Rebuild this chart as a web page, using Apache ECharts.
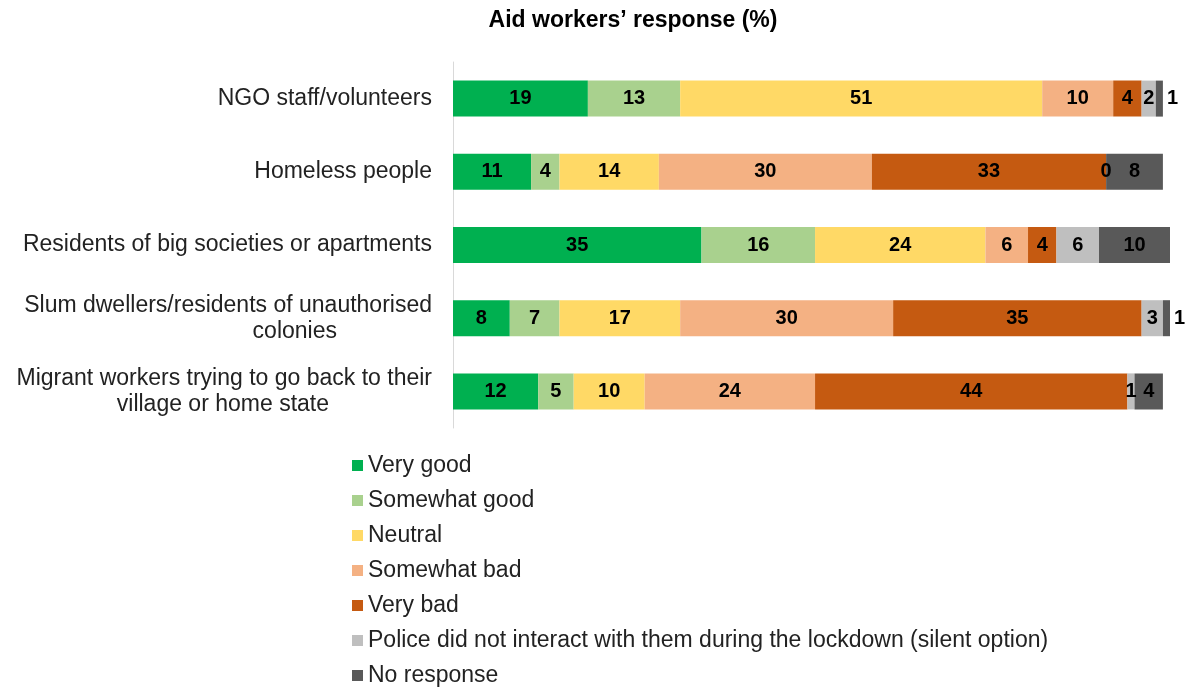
<!DOCTYPE html>
<html>
<head>
<meta charset="utf-8">
<script src="https://cdn.jsdelivr.net/npm/echarts@6/dist/echarts.min.js"></script>
<style>
  html, body { margin: 0; padding: 0; background: #fff; }
  #chart { width: 1186px; height: 693px; }
</style>
</head>
<body>
<div id="chart"></div>
<script>
// Groups asked about, top to bottom
const categories = [
  'NGO staff/volunteers',
  'Homeless people',
  'Residents of big societies or apartments',
  'Slum dwellers/residents of unauthorised colonies',
  'Migrant workers trying to go back to their village or home state'
];

// Response shares (%) per group, same order as categories
const veryGood     = [19, 11, 35, 8, 12];
const somewhatGood = [13, 4, 16, 7, 5];
const neutral      = [51, 14, 24, 17, 10];
const somewhatBad  = [10, 30, 6, 30, 24];
const veryBad      = [4, 33, 4, 35, 44];
const noInteract   = [2, 0, 6, 3, 1];
const noResponse   = [1, 8, 10, 1, 4];

const seriesDefs = [
  { name: 'Very good', data: veryGood, color: '#00B050' },
  { name: 'Somewhat good', data: somewhatGood, color: '#A9D18E' },
  { name: 'Neutral', data: neutral, color: '#FFD966' },
  { name: 'Somewhat bad', data: somewhatBad, color: '#F4B183' },
  { name: 'Very bad', data: veryBad, color: '#C55A11' },
  { name: 'Police did not interact with them during the lockdown (silent option)', data: noInteract, color: '#BFBFBF' },
  { name: 'No response', data: noResponse, color: '#595959' }
];

const FONT = '"Liberation Sans", Arial, sans-serif';
const LABEL_SIZE = 23;

// Two-line labels: the second line sits a little left of the right edge
const wrapped = {
  'Slum dwellers/residents of unauthorised colonies':
    { first: 'Slum dwellers/residents of unauthorised', second: 'colonies', pad: 'pa' },
  'Migrant workers trying to go back to their village or home state':
    { first: 'Migrant workers trying to go back to their', second: 'village or home state', pad: 'pb' }
};

const series = seriesDefs.map((s, si) => ({
  name: s.name,
  type: 'bar',
  stack: 'total',
  barWidth: 36,
  itemStyle: { color: s.color },
  label: {
    show: true,
    position: 'inside',
    color: '#000',
    fontFamily: FONT,
    fontWeight: 'bold',
    fontSize: 20
  },
  data: s.data.map(v => {
    // the last slice is placed outside the bar when it is too thin to hold its label
    if (si === seriesDefs.length - 1 && v <= 1) {
      return { value: v, label: { position: 'right', distance: 4 } };
    }
    return v;
  })
}));

const lineStyle = { fontFamily: FONT, fontSize: LABEL_SIZE, color: '#222', lineHeight: 26 };

const chart = echarts.init(document.getElementById('chart'));
chart.setOption({
  animation: false,
  title: {
    text: 'Aid workers\u2019 response (%)',
    left: 628,
    textAlign: 'center',
    top: 4,
    textStyle: { fontFamily: FONT, fontWeight: 'bold', fontSize: 23, color: '#000' }
  },
  legend: {
    orient: 'vertical',
    left: 352,
    top: 454,
    padding: 0,
    itemWidth: 11,
    itemHeight: 11,
    itemGap: 12,
    icon: 'rect',
    textStyle: { fontFamily: FONT, fontSize: LABEL_SIZE, color: '#222' },
    data: seriesDefs.map(s => s.name)
  },
  grid: { left: 453, top: 62, width: 717, height: 366, containLabel: false },
  xAxis: {
    type: 'value',
    min: 0,
    max: 101,
    show: false
  },
  yAxis: {
    type: 'category',
    inverse: true,
    data: categories,
    axisLine: { show: true, lineStyle: { color: '#D9D9D9', width: 1 } },
    axisTick: { show: false },
    axisLabel: Object.assign({
      margin: 21,
      align: 'right',
      formatter: function (v) {
        const w = wrapped[v];
        if (w) return '{t|' + w.first + '}\n{r|' + w.second + '}{' + w.pad + '| }';
        return v;
      },
      rich: {
        t: Object.assign({}, lineStyle),
        r: Object.assign({ align: 'right' }, lineStyle),
        pa: Object.assign({ align: 'right', width: 95 }, lineStyle),
        pb: Object.assign({ align: 'right', width: 103 }, lineStyle)
      }
    }, lineStyle)
  },
  series: series
});
</script>
</body>
</html>
